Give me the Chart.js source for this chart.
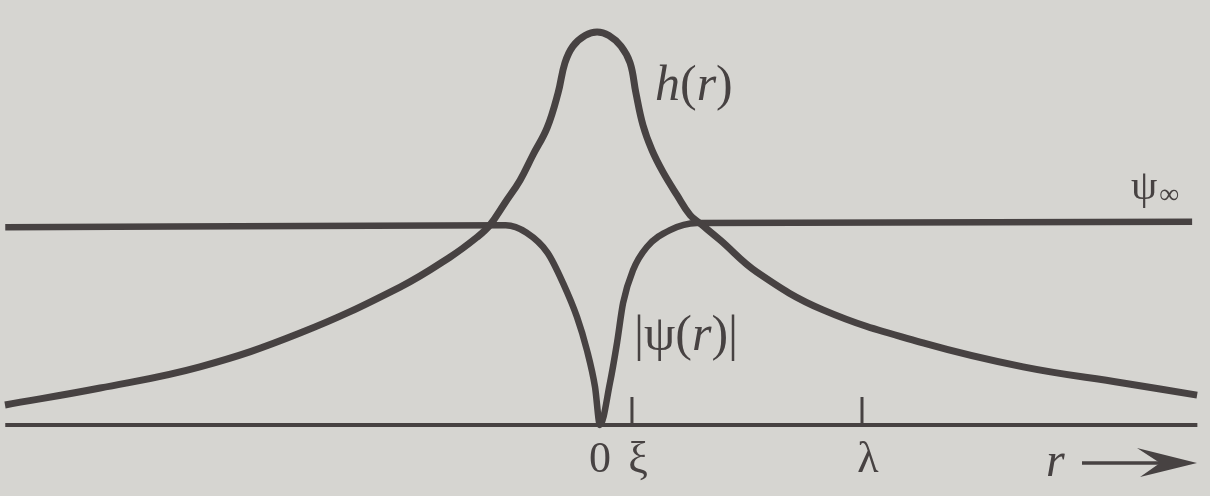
<!DOCTYPE html>
<html>
<head>
<meta charset="utf-8">
<script src="https://cdn.jsdelivr.net/npm/chart.js@4/dist/chart.umd.min.js"></script>
<style>
  html, body { margin: 0; padding: 0; background: #d6d5d1; }
  #wrap { width: 1210px; height: 496px; position: relative; }
</style>
</head>
<body>
<div id="wrap"><canvas id="c"></canvas></div>
<script>
// Distances are in units of the penetration depth λ; fields in units of h(0).
const XI = 0.122;
const LAMBDA = 1.0;

// Magnetic field h(r) across the vortex core
const hR = [-2.271, -1.908, -1.527, -1.145, -0.763, -0.573, -0.469, -0.420, -0.363, -0.305, -0.256, -0.202,
            -0.160, -0.134, -0.103, -0.057, -0.011, 0.034, 0.080, 0.115, 0.137, 0.164, 0.198, 0.240, 0.294,
            0.344, 0.382, 0.458, 0.599, 0.851, 1.233, 1.615, 1.996, 2.279];
const hValues = [0.051, 0.094, 0.148, 0.234, 0.351, 0.427, 0.478, 0.509, 0.565, 0.623, 0.687, 0.756,
                 0.845, 0.921, 0.964, 0.991, 1.0, 0.991, 0.964, 0.921, 0.845, 0.763, 0.700, 0.644, 0.585,
                 0.534, 0.513, 0.471, 0.389, 0.293, 0.209, 0.148, 0.107, 0.076];

// Order parameter |ψ(r)|, vanishing at the core and recovering to ψ∞
const psiR = [-2.27, -0.36, -0.28, -0.20, -0.141, -0.088, -0.05, -0.019, 0, 0.038, 0.065, 0.088, 0.126, 0.179, 0.267, 0.37, 2.26];
const psiValues = [0.503, 0.508, 0.489, 0.438, 0.361, 0.275, 0.191, 0.097, 0, 0.107, 0.209, 0.310, 0.394, 0.453, 0.496, 0.514, 0.517];

// Axis
const rRange = [-2.27, 2.28];
const tickValues = [0, XI, LAMBDA];
const tickLabels = ['0', 'ξ', 'λ'];
const markedTicks = [XI, LAMBDA];

const INK = '#474242';
const SERIF = '"Liberation Serif"';

function pts(xs, ys) { return xs.map((x, i) => ({ x: x, y: ys[i] })); }

// Draws a run of text pieces, each with its own font, left to right.
function drawRun(ctx, parts, x, y) {
  let cx = x;
  for (const p of parts) {
    ctx.font = p.f;
    ctx.fillText(p.t, cx + (p.dx || 0), y + (p.dy || 0));
    cx += ctx.measureText(p.t).width + (p.dx || 0);
  }
}

const annotate = {
  id: 'annotate',
  afterDraw(chart) {
    const ctx = chart.ctx;
    const xs = chart.scales.x, ys = chart.scales.y;
    const y0 = ys.getPixelForValue(0);
    ctx.save();
    ctx.strokeStyle = INK;
    ctx.fillStyle = INK;
    ctx.lineCap = 'butt';

    // r axis
    ctx.lineWidth = 4;
    ctx.beginPath();
    ctx.moveTo(xs.getPixelForValue(rRange[0]), y0);
    ctx.lineTo(xs.getPixelForValue(rRange[1]), y0);
    ctx.stroke();

    // tick marks at ξ and λ
    ctx.lineWidth = 3;
    for (const v of markedTicks) {
      const px = xs.getPixelForValue(v);
      ctx.beginPath();
      ctx.moveTo(px, y0);
      ctx.lineTo(px, y0 - 28);
      ctx.stroke();
    }

    // tick labels
    ctx.textBaseline = 'alphabetic';
    ctx.textAlign = 'center';
    ctx.font = '44px ' + SERIF;
    tickValues.forEach((v, i) => {
      const px = xs.getPixelForValue(v) + (v === 0 ? 0 : 6);
      ctx.fillText(tickLabels[i], px, y0 + 47);
    });

    // r with arrow
    ctx.textAlign = 'left';
    ctx.font = 'italic 48px ' + SERIF;
    ctx.fillText('r', 1046, y0 + 51);
    ctx.lineWidth = 3.5;
    ctx.beginPath();
    ctx.moveTo(1082, y0 + 38);
    ctx.lineTo(1165, y0 + 38);
    ctx.stroke();
    ctx.beginPath();
    ctx.moveTo(1197, y0 + 38);
    ctx.lineTo(1137, y0 + 23);
    ctx.lineTo(1160, y0 + 38);
    ctx.lineTo(1140, y0 + 52);
    ctx.closePath();
    ctx.fill();

    // curve labels
    const up = '50px ' + SERIF, it = 'italic 50px ' + SERIF;
    drawRun(ctx, [{ t: 'h', f: it }, { t: '(', f: up }, { t: 'r', f: it }, { t: ')', f: up }], 655, 100);

    drawRun(ctx, [{ t: '|', f: up }, { t: 'ψ', f: up }, { t: '(', f: up }, { t: 'r', f: it }, { t: ')', f: up }, { t: '|', f: up }], 634, 350);

    drawRun(ctx, [{ t: 'ψ', f: '42px ' + SERIF }, { t: '∞', f: '28px ' + SERIF, dx: 2, dy: 4 }], 1131, 199);

    ctx.restore();
  }
};

new Chart(document.getElementById('c'), {
  type: 'line',
  data: {
    datasets: [
      {
        label: 'h(r)',
        data: pts(hR, hValues),
        borderColor: INK,
        borderWidth: 7,
        pointRadius: 0,
        tension: 0.4,
        fill: false
      },
      {
        label: '|ψ(r)|',
        data: pts(psiR, psiValues),
        borderColor: INK,
        borderWidth: 6.5,
        pointRadius: 0,
        cubicInterpolationMode: 'monotone',
        fill: false
      }
    ]
  },
  options: {
    responsive: true,
    maintainAspectRatio: false,
    animation: false,
    layout: { padding: 0 },
    plugins: { legend: { display: false }, tooltip: { enabled: false } },
    scales: {
      x: { type: 'linear', display: false, min: -600 / 262, max: 610 / 262 },
      y: { type: 'linear', display: false, min: -71 / 393, max: 425 / 393 }
    }
  },
  plugins: [annotate]
});
</script>
</body>
</html>
